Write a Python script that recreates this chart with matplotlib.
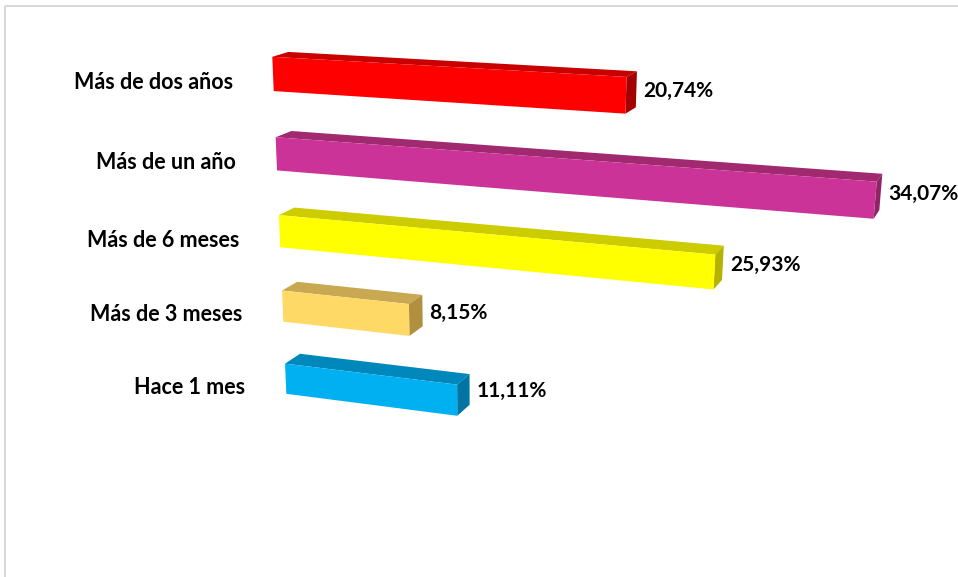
import numpy as np
import matplotlib.pyplot as plt
from matplotlib.patches import Polygon, Rectangle

categories = ["Más de dos años", "Más de un año", "Más de 6 meses",
              "Más de 3 meses", "Hace 1 mes"]
values = [20.74, 34.07, 25.93, 8.15, 11.11]

front_colors = ["#FF0000", "#CC3399", "#FFFF00", "#FFD966", "#00B0F0"]
top_colors = ["#C80000", "#A0296F", "#CCCC00", "#C9A852", "#0088BC"]
side_colors = ["#A50000", "#8E2466", "#B4B400", "#B0903E", "#0074A2"]

# camera used for the perspective look
yaw = np.radians(20.4)
tilt = np.radians(20.3)
focal = 1703.0
center = np.array([479.0, 421.0])

# bar geometry in scene units
unit = 17.63      # per percentage point
spacing = 80.5    # between bar centres
half_h = 17.0
depth = 36.0

cy, sy = np.cos(yaw), np.sin(yaw)
ct, st = np.cos(tilt), np.sin(tilt)
rot = (np.array([[1, 0, 0], [0, ct, st], [0, -st, ct]])
       @ np.array([[cy, 0, sy], [0, 1, 0], [-sy, 0, cy]]))

# origin (value 0, first bar centre, front face) sits at this pixel
anchor = np.array([273.0, 74.0])
dist = 1703.0
cam_pt = np.array([(anchor[0] - center[0]) * dist / focal,
                   -(anchor[1] - center[1]) * dist / focal, dist])
eye = -rot.T @ cam_pt


def project(x, y, z):
    p = rot @ (np.array([x, y, z]) - eye)
    return (center[0] + focal * p[0] / p[2], center[1] - focal * p[1] / p[2])


fig = plt.figure(figsize=(9.58, 5.77), dpi=100)
ax = fig.add_axes([0, 0, 1, 1])
ax.set_xlim(0, 958)
ax.set_ylim(577, 0)
ax.axis("off")

# chart frame
ax.add_patch(Rectangle((5, 6), 1000, 1000, fill=False, edgecolor="#D4D4D4", lw=1.3))

font = "Lato"
for i, (cat, val) in enumerate(zip(categories, values)):
    yc = -i * spacing
    x1 = val * unit
    y0, y1 = yc - half_h, yc + half_h
    top = [project(0, y1, 0), project(x1, y1, 0), project(x1, y1, depth), project(0, y1, depth)]
    side = [project(x1, y0, 0), project(x1, y1, 0), project(x1, y1, depth), project(x1, y0, depth)]
    front = [project(0, y0, 0), project(x1, y0, 0), project(x1, y1, 0), project(0, y1, 0)]
    ax.add_patch(Polygon(top, closed=True, facecolor=top_colors[i], edgecolor="none"))
    ax.add_patch(Polygon(side, closed=True, facecolor=side_colors[i], edgecolor="none"))
    ax.add_patch(Polygon(front, closed=True, facecolor=front_colors[i], edgecolor="none"))

    # category name left of the bar
    ax.annotate(cat, xy=project(0, yc, 0), xytext=(-29, -11), textcoords="offset points",
                ha="right", va="baseline", fontsize=15.5, fontweight="bold",
                family=font, color="black")
    # value label after the bar end
    label = f"{val:.2f}%".replace(".", ",")
    ax.annotate(label, xy=project(x1, yc, depth), xytext=(5, 0), textcoords="offset points",
                ha="left", va="center_baseline", fontsize=15, fontweight="bold",
                family=font, color="black")

fig.savefig("out.png", dpi=100)
